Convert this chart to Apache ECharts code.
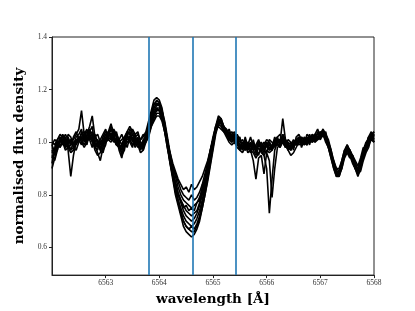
<!DOCTYPE html>
<html>
<head>
<meta charset="utf-8">
<script src="https://cdn.jsdelivr.net/npm/echarts@6/dist/echarts.min.js"></script>
<style>html,body{margin:0;padding:0;background:#fff}#c{width:415px;height:311px}</style>
</head>
<body>
<div id="c"></div>
<script>
// wavelength sampling grid (Å): start, step
const waveStart = 6562.0;
const waveStep = 0.05;
// vertical marker lines (Å)
const markerWaves = [6563.81, 6564.62, 6565.42];
// tick labels
const xTicks = [6563, 6564, 6565, 6566, 6567, 6568];
const yTicks = [0.6, 0.8, 1.0, 1.2, 1.4];

// normalised flux density of each spectrum
const spec1 = [0.95,0.93,0.97,1.01,1.02,0.99,1.00,0.97,0.98,1.02,1.03,1.05,1.00,1.02,1.05,1.02,0.99,1.00,0.97,1.01,1.03,1.02,1.05,1.02,1.00,0.98,0.99,1.01,1.03,1.04,1.01,0.99,1.02,0.98,1.00,1.03,
1.06,1.10,1.14,1.16,1.15,1.11,1.05,0.99,0.92,0.86,0.80,0.76,0.72,0.68,0.66,0.65,0.64,0.65,0.67,0.70,0.75,0.80,0.86,0.92,0.98,1.04,1.09,1.08,1.05,1.03,1.04,1.01,1.03,1.00,0.98,
0.99,0.97,1.00,0.98,0.99,0.96,1.00,0.97,0.98,1.00,0.97,0.99,1.01,1.02,0.99,1.03,1.00,0.98,0.99,0.98,1.01,1.02,0.99,1.02,1.00,1.03,1.00,1.01,1.04,1.02,1.05,1.01,0.98,0.94,0.90,0.87,0.87,0.90,0.95,0.98,0.95,0.93,0.90,0.88,0.90,0.94,0.97,1.01,1.01,1.03];
const spec2 = [0.98,0.97,0.99,1.00,1.03,1.01,0.98,0.99,1.00,1.00,1.01,1.02,1.03,1.01,1.03,1.04,1.01,0.98,0.99,1.00,1.01,1.04,1.03,1.04,1.02,0.99,0.97,1.00,1.01,1.02,1.03,1.01,1.00,1.00,0.99,1.01,
1.04,1.08,1.11,1.13,1.13,1.11,1.07,1.01,0.95,0.89,0.83,0.78,0.74,0.70,0.68,0.67,0.66,0.66,0.68,0.71,0.75,0.80,0.85,0.91,0.97,1.03,1.07,1.08,1.06,1.04,1.02,1.03,1.01,1.02,1.00,
1.01,0.99,0.98,1.00,0.97,0.98,0.99,1.00,0.98,0.99,0.99,0.97,1.00,1.00,1.01,1.02,0.99,1.00,0.97,1.00,0.99,1.00,1.01,1.00,1.02,1.01,1.03,1.02,1.03,1.04,1.03,1.02,1.00,0.96,0.92,0.89,0.88,0.92,0.96,0.97,0.96,0.94,0.92,0.89,0.92,0.96,0.99,1.00,1.03,1.00];
const spec3 = [0.90,0.94,0.98,0.99,1.00,1.02,0.97,0.87,0.95,1.00,1.02,1.01,1.02,1.04,1.03,1.01,0.99,0.96,0.93,0.98,1.01,1.03,1.06,1.04,1.02,0.97,0.94,0.99,1.02,1.05,1.03,1.01,1.00,0.98,1.01,1.02,
1.06,1.10,1.13,1.15,1.14,1.10,1.04,0.98,0.92,0.87,0.82,0.78,0.75,0.72,0.70,0.69,0.68,0.69,0.71,0.74,0.78,0.83,0.88,0.94,1.00,1.05,1.09,1.07,1.05,1.04,1.02,1.01,1.03,1.00,0.98,
1.00,0.98,0.99,0.97,0.99,0.98,1.00,0.99,0.97,1.00,0.98,0.97,1.01,1.00,1.01,1.00,1.01,0.99,0.97,1.00,1.01,1.00,1.02,1.01,0.99,1.02,1.02,1.03,1.02,1.03,1.04,1.01,0.99,0.95,0.91,0.88,0.89,0.91,0.95,0.98,0.97,0.95,0.91,0.90,0.91,0.95,0.98,1.00,1.02,1.02];
const spec4 = [0.96,0.98,1.01,1.02,0.99,1.00,1.01,1.00,1.01,1.03,1.05,1.12,1.03,1.00,1.02,1.03,1.00,1.01,0.99,1.02,1.04,1.03,1.02,1.05,1.03,1.01,0.99,1.02,1.04,1.03,1.00,1.02,1.03,1.01,1.02,1.04,
1.08,1.12,1.16,1.17,1.16,1.13,1.07,1.01,0.95,0.89,0.84,0.80,0.77,0.74,0.72,0.71,0.70,0.71,0.73,0.76,0.80,0.84,0.89,0.95,1.01,1.06,1.10,1.09,1.06,1.05,1.03,1.04,1.02,1.01,0.99,
0.98,1.00,0.97,0.99,1.00,0.97,0.99,0.98,0.99,1.01,1.00,0.98,0.99,1.01,1.00,1.09,1.01,0.99,1.00,0.98,1.00,1.01,1.00,1.01,0.99,1.02,1.01,1.02,1.03,1.03,1.05,1.03,1.00,0.97,0.93,0.89,0.88,0.92,0.96,0.98,0.97,0.94,0.91,0.89,0.91,0.96,0.98,1.02,1.03,1.02];
const spec5 = [0.97,0.95,0.99,1.00,1.01,0.98,0.99,0.97,1.00,1.01,1.00,1.02,1.01,1.03,1.06,1.10,1.02,1.00,0.98,0.99,1.02,1.02,1.03,1.01,0.99,0.98,0.97,1.00,1.02,1.02,1.01,0.98,1.00,0.99,0.98,1.01,
1.03,1.07,1.10,1.12,1.12,1.10,1.05,1.00,0.94,0.89,0.85,0.81,0.78,0.76,0.74,0.73,0.72,0.73,0.74,0.77,0.81,0.85,0.90,0.95,1.00,1.04,1.08,1.07,1.05,1.03,1.02,1.00,1.02,1.00,0.97,
0.99,0.97,0.98,0.99,0.97,0.95,0.98,0.96,0.95,0.90,0.73,0.86,0.97,1.00,1.00,1.01,0.99,0.97,0.98,0.99,1.00,0.99,1.00,1.00,1.01,1.00,1.02,1.01,1.02,1.02,1.04,1.02,0.99,0.96,0.91,0.88,0.89,0.93,0.97,0.99,0.96,0.93,0.90,0.89,0.92,0.97,1.00,1.01,1.02,1.00];
const spec6 = [1.00,0.99,1.01,1.03,1.02,1.00,1.02,0.99,1.00,0.99,1.01,1.03,1.04,1.02,1.01,1.02,1.03,1.00,0.97,0.96,1.00,1.01,1.02,1.03,1.00,0.98,0.96,0.98,1.00,1.01,1.02,1.00,0.98,0.99,1.00,1.02,
1.05,1.09,1.12,1.14,1.14,1.12,1.08,1.02,0.96,0.91,0.87,0.83,0.80,0.78,0.77,0.76,0.75,0.76,0.77,0.79,0.82,0.86,0.91,0.96,1.01,1.06,1.09,1.08,1.06,1.04,1.03,1.01,1.02,1.01,0.99,
0.97,0.99,0.96,0.97,0.93,0.86,0.94,0.95,0.88,0.96,0.93,0.79,0.90,0.98,0.99,1.00,0.98,0.99,0.97,1.00,0.99,1.01,0.99,1.00,1.00,1.01,1.00,1.02,1.01,1.02,1.03,1.01,0.98,0.95,0.92,0.89,0.89,0.92,0.96,0.97,0.95,0.93,0.91,0.90,0.93,0.96,0.99,1.02,1.01,1.03];
const spec7 = [0.99,1.01,1.00,0.98,1.00,1.01,1.00,1.01,0.99,1.00,1.02,1.01,0.99,1.01,1.02,1.00,0.98,0.99,1.00,1.01,1.00,1.02,1.01,1.02,0.99,1.00,1.01,1.02,1.00,1.01,0.99,1.00,1.01,0.97,0.99,1.00,
1.02,1.06,1.09,1.11,1.11,1.09,1.05,1.00,0.95,0.91,0.88,0.85,0.82,0.80,0.79,0.78,0.80,0.78,0.79,0.81,0.84,0.88,0.92,0.97,1.01,1.05,1.07,1.06,1.04,1.03,1.01,1.00,1.01,0.99,0.98,
1.00,0.98,1.00,0.99,0.98,0.97,0.99,0.98,0.96,0.99,0.97,0.98,1.00,1.01,1.00,1.01,1.00,0.99,0.98,0.99,1.01,1.00,1.01,0.99,1.00,1.01,1.02,1.00,1.02,1.01,1.03,1.02,0.99,0.96,0.92,0.90,0.89,0.91,0.95,0.97,0.96,0.95,0.92,0.90,0.92,0.95,0.97,0.99,1.01,1.00];
const spec8 = [0.94,0.96,1.00,1.01,1.00,0.97,0.98,0.96,0.97,1.00,1.02,1.00,0.98,1.00,1.03,1.01,0.97,0.95,0.96,1.00,1.03,1.04,1.02,1.00,1.01,0.99,0.98,1.01,1.04,1.06,1.04,1.02,0.99,0.96,0.97,1.00,
1.03,1.06,1.08,1.10,1.10,1.08,1.04,1.00,0.96,0.92,0.89,0.86,0.84,0.82,0.83,0.81,0.84,0.82,0.83,0.85,0.87,0.90,0.93,0.97,1.01,1.04,1.06,1.05,1.04,1.02,1.00,0.99,1.00,0.98,0.97,
0.96,0.98,0.99,0.97,0.96,0.94,0.96,0.97,0.95,0.97,0.96,0.97,0.99,1.00,0.98,1.00,0.99,0.97,0.95,0.96,0.98,1.00,1.01,1.00,0.99,1.01,1.01,1.02,1.01,1.03,1.03,1.00,0.98,0.94,0.90,0.87,0.88,0.90,0.94,0.96,0.95,0.92,0.90,0.88,0.89,0.93,0.96,0.98,1.02,1.04];
const spec9 = [0.92,0.97,1.00,0.98,1.01,1.03,1.01,0.99,1.02,1.04,1.01,0.99,1.03,1.05,1.01,0.98,1.02,1.03,1.00,0.97,0.99,1.04,1.07,1.03,0.99,1.01,1.03,1.00,0.98,1.02,1.05,1.03,0.99,1.01,1.03,1.02,
1.07,1.11,1.15,1.14,1.15,1.12,1.06,1.00,0.93,0.87,0.81,0.77,0.73,0.70,0.68,0.67,0.68,0.67,0.69,0.72,0.77,0.82,0.87,0.93,0.99,1.05,1.08,1.09,1.06,1.03,1.05,1.02,1.00,1.03,1.01,
0.98,1.01,0.99,1.02,0.98,0.99,1.01,0.98,1.00,0.98,1.01,1.00,0.98,1.02,1.03,1.00,0.98,1.01,1.00,0.97,1.02,1.03,1.01,0.99,1.03,1.02,1.00,1.03,1.05,1.02,1.04,1.03,1.01,0.97,0.92,0.88,0.87,0.91,0.96,0.99,0.97,0.94,0.90,0.87,0.90,0.95,0.99,1.02,1.04,1.01];
const spec10 = [0.99,0.96,0.97,1.02,1.00,0.98,1.03,1.02,0.98,0.97,1.00,1.04,1.02,0.99,1.04,1.06,0.98,0.97,1.01,1.03,1.05,1.01,1.00,1.02,1.04,1.00,0.95,0.97,1.03,1.00,0.98,1.03,1.04,1.00,0.97,1.03,
1.04,1.09,1.11,1.13,1.12,1.09,1.04,0.98,0.93,0.88,0.84,0.80,0.78,0.75,0.76,0.74,0.75,0.74,0.77,0.78,0.83,0.86,0.91,0.97,1.02,1.06,1.07,1.08,1.04,1.05,1.01,1.03,1.04,1.00,1.02,
0.97,1.02,0.98,0.96,1.01,0.97,0.95,0.99,0.97,0.96,1.00,0.98,1.02,0.99,0.98,1.03,1.01,0.97,0.99,1.01,0.99,1.02,0.98,1.01,1.02,0.99,1.03,1.00,1.01,1.04,1.02,1.04,0.99,0.95,0.93,0.90,0.90,0.93,0.97,0.96,0.94,0.95,0.93,0.91,0.94,0.98,0.97,1.00,1.03,1.04];

const spectra = [spec1, spec2, spec3, spec4, spec5, spec6, spec7, spec8, spec9, spec10];

const chart = echarts.init(document.getElementById('c'), null, {renderer: 'canvas'});
const tickFont = {fontFamily: 'Liberation Serif', fontSize: 7.5, color: '#333'};
const nameFont = {fontFamily: 'DejaVu Serif', fontWeight: 'bold', fontSize: 13.5, color: '#000'};

const series = spectra.map((s) => ({
  type: 'line',
  data: s.map((v, i) => [+(waveStart + waveStep * i).toFixed(2), v]),
  showSymbol: false,
  symbol: 'none',
  silent: true,
  animation: false,
  lineStyle: {color: '#000', width: 1.6},
  z: 2
}));
series.push({
  type: 'line',
  data: [],
  silent: true,
  animation: false,
  z: 5,
  markLine: {
    silent: true,
    symbol: ['none', 'none'],
    animation: false,
    label: {show: false},
    lineStyle: {color: '#1f77b4', width: 1.6, type: 'solid'},
    data: markerWaves.map(w => ({xAxis: w}))
  }
});

chart.setOption({
  backgroundColor: '#fff',
  animation: false,
  grid: {left: 52, right: 41, top: 37, bottom: 35, show: true, borderColor: '#222', borderWidth: 1, backgroundColor: 'transparent'},
  xAxis: {
    type: 'value', min: 6562.0, max: 6568,
    name: 'wavelength [Å]', nameLocation: 'middle', nameGap: 11, nameTextStyle: nameFont,
    axisLine: {show: true, lineStyle: {color: '#222', width: 1}},
    axisTick: {show: true, inside: false, length: 3, customValues: xTicks, lineStyle: {color: '#222'}},
    axisLabel: {show: true, margin: 4, customValues: xTicks, formatter: v => String(Math.round(v)), ...tickFont},
    splitLine: {show: false}
  },
  yAxis: {
    type: 'value', min: 0.495, max: 1.4,
    name: 'normalised flux density', nameLocation: 'middle', nameGap: 22, nameTextStyle: nameFont,
    axisLine: {show: true, lineStyle: {color: '#222', width: 1}},
    axisTick: {show: true, inside: false, length: 3, customValues: yTicks, lineStyle: {color: '#222'}},
    axisLabel: {show: true, margin: 5, customValues: yTicks, formatter: v => v.toFixed(1), ...tickFont},
    splitLine: {show: false}
  },
  series: series
});
</script>
</body>
</html>
